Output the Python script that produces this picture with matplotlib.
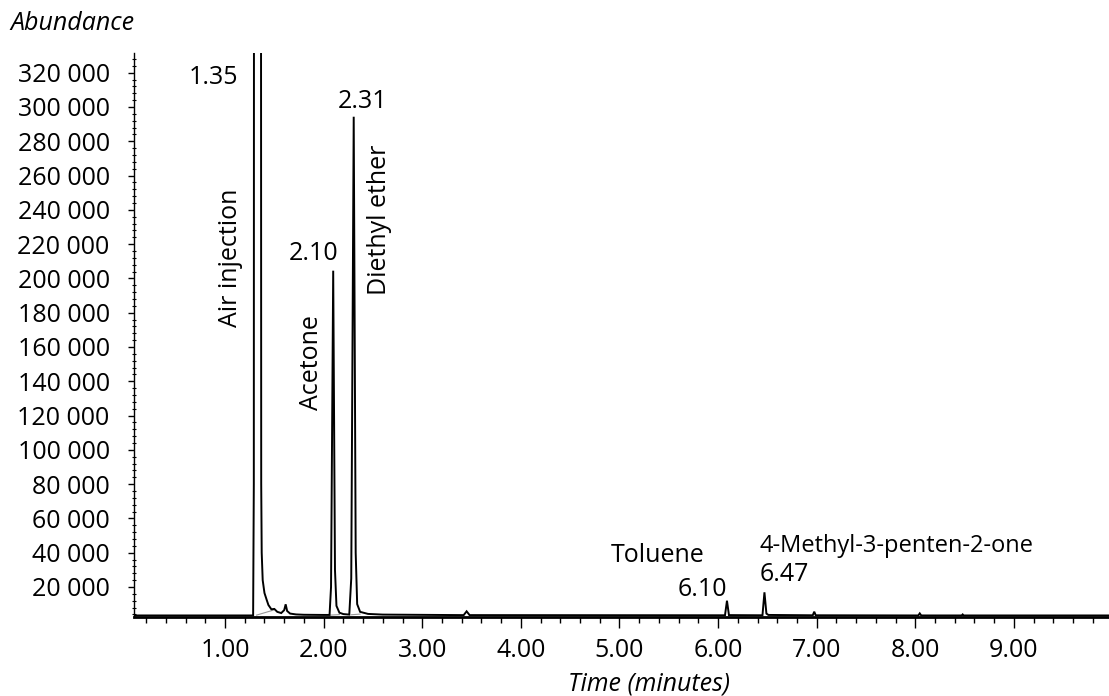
import matplotlib
matplotlib.use("Agg")
import matplotlib.pyplot as plt
from matplotlib.ticker import MultipleLocator, FuncFormatter
import numpy as np

plt.rcParams['font.family'] = ['Open Sans', 'DejaVu Sans']

# chromatogram trace (time in minutes, abundance)
t = [0.08, 1.27, 1.285, 1.292, 1.296, 1.362, 1.367, 1.372, 1.382, 1.40, 1.423, 1.44,
     1.47, 1.50, 1.53, 1.57, 1.60, 1.615, 1.63, 1.66, 1.72, 1.80, 2.00,
     2.06, 2.075, 2.097, 2.115, 2.13, 2.16, 2.20,
     2.26, 2.28, 2.305, 2.325, 2.34, 2.37, 2.45, 2.60,
     3.42, 3.45, 3.48,
     6.07, 6.09, 6.11,
     6.45, 6.47, 6.49, 6.51,
     6.96, 6.975, 6.99,
     8.03, 8.045, 8.06,
     8.47, 8.48, 8.49, 9.98]
abundance = [3400, 3400, 3400, 80000, 800000, 800000, 80000, 40000, 24000, 16500, 12400, 9500,
             7000, 7200, 5500, 4800, 6500, 9900, 6000, 4500, 4000, 3800, 3700,
             3700, 20000, 204500, 30000, 9000, 5000, 4200,
             3900, 25000, 294300, 40000, 10000, 5500, 4300, 3900,
             3600, 5800, 3600,
             3500, 12000, 3600,
             3500, 16900, 4500, 3700,
             3500, 5600, 3500,
             3400, 4600, 3400,
             3400, 4000, 3400, 3400]

# grey integration baselines under the first peaks
base_t = [[1.32, 1.49], [2.07, 2.16], [2.28, 2.37]]
base_y = [[3600, 6500], [3600, 3900], [3800, 4200]]

# peak labels
labels = ['1.35', 'Air injection', '2.10', 'Acetone', '2.31', 'Diethyl ether',
          'Toluene', '6.10', '4-Methyl-3-penten-2-one', '6.47']
lab_x = [0.88, 1.053, 1.902, 1.872, 2.399, 2.571, 5.386, 5.838, 6.419, 6.676]
lab_y = [317400, 211800, 214300, 150700, 302900, 234100, 38100, 18300, 43900, 27000]
lab_rot = [0, 90, 0, 90, 0, 90, 0, 0, 0, 0]
lab_ha = ['center', 'center', 'center', 'center', 'center', 'center', 'center', 'center', 'left', 'center']
lab_size = [18, 18, 18, 18, 18, 18, 18, 18, 17, 18]

fig = plt.figure(figsize=(11.09, 6.96), dpi=100)
ax = fig.add_axes([134/1109, 79/696, 975/1109, 564/696])

for bt, by in zip(base_t, base_y):
    ax.plot(bt, by, color='#999999', lw=0.8)
ax.plot(t, abundance, color='#000000', lw=1.4, solid_joinstyle='miter')

for s, x, y, r, h, fs in zip(labels, lab_x, lab_y, lab_rot, lab_ha, lab_size):
    ax.text(x, y, s, rotation=r, ha=h, va='center', fontsize=fs, color='#000000')

ax.set_xlim(0.077, 9.964)
ax.set_ylim(2500, 331470)

ax.xaxis.set_minor_locator(MultipleLocator(0.2))
ax.set_xticks(np.arange(1, 10))
ax.xaxis.set_major_formatter(FuncFormatter(lambda v, p: '%.2f' % v))
ax.set_yticks(np.arange(20000, 330000, 20000))
ax.yaxis.set_minor_locator(MultipleLocator(4000))
ax.yaxis.set_major_formatter(FuncFormatter(lambda v, p: '{:,}'.format(int(v)).replace(',', ' ')))

ax.tick_params(axis='x', which='major', length=8, width=1, direction='out', pad=7, labelsize=18)
ax.tick_params(axis='x', which='minor', length=4, width=1, direction='out')
ax.tick_params(axis='y', which='major', length=4.5, width=1, direction='out', pad=13, labelsize=18)
ax.tick_params(axis='y', which='minor', length=2.5, width=0.8, direction='inout')

for side in ['top', 'right']:
    ax.spines[side].set_visible(False)
ax.spines['left'].set_linewidth(1)
ax.spines['bottom'].set_linewidth(2)

fig.text(10/1109, 1 - 24/696, 'Abundance', style='italic', fontsize=18, ha='left', va='center')
fig.text(649/1109, 1 - 684/696, 'Time (minutes)', style='italic', fontsize=18, ha='center', va='center')

fig.savefig('out.png', dpi=100)
